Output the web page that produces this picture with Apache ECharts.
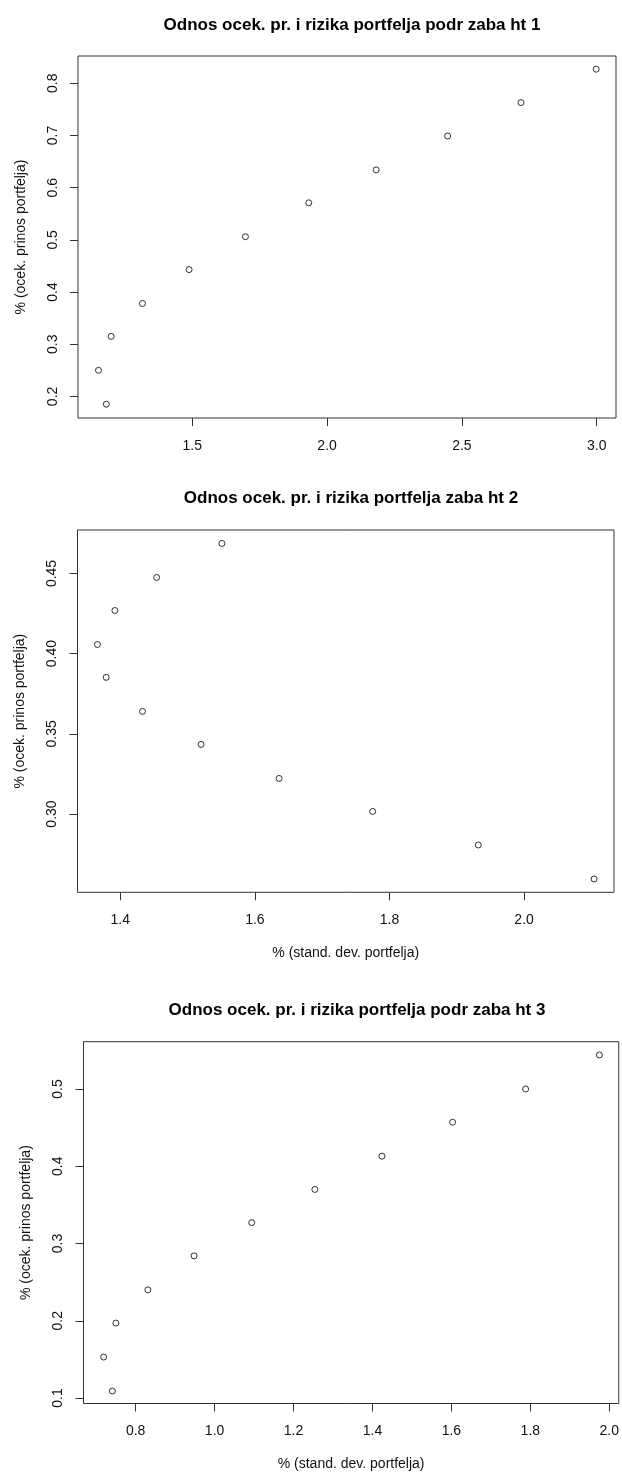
<!DOCTYPE html>
<html>
<head>
<meta charset="utf-8">
<script src="https://cdn.jsdelivr.net/npm/echarts@6/dist/echarts.min.js"></script>
<style>
html,body{margin:0;padding:0;background:#fff;}
#chart{width:622px;height:1475px;}
</style>
</head>
<body>
<div id="chart"></div>
<script>
const titles = [
  "Odnos ocek. pr. i rizika portfelja podr zaba ht 1",
  "Odnos ocek. pr. i rizika portfelja zaba ht 2",
  "Odnos ocek. pr. i rizika portfelja podr zaba ht 3"
];
const yName = "% (ocek. prinos portfelja)";
const xName = "% (stand. dev. portfelja)";

const sd1  = [1.152, 1.181, 1.199, 1.315, 1.488, 1.697, 1.932, 2.182, 2.447, 2.719, 2.998];
const ret1 = [0.250, 0.185, 0.315, 0.378, 0.443, 0.506, 0.571, 0.634, 0.699, 0.763, 0.827];

const sd2  = [1.366, 1.379, 1.392, 1.433, 1.454, 1.520, 1.551, 1.636, 1.775, 1.932, 2.104];
const ret2 = [0.4057, 0.3852, 0.4269, 0.3640, 0.4475, 0.3434, 0.4687, 0.3222, 0.3016, 0.2807, 0.2595];

const sd3  = [0.719, 0.741, 0.750, 0.831, 0.948, 1.094, 1.254, 1.424, 1.603, 1.788, 1.975];
const ret3 = [0.153, 0.109, 0.197, 0.240, 0.284, 0.327, 0.370, 0.413, 0.457, 0.500, 0.544];

const xTicks1 = [1.5, 2.0, 2.5, 3.0];
const xLabels1 = ["1.5", "2.0", "2.5", "3.0"];
const yTicks1 = [0.2, 0.3, 0.4, 0.5, 0.6, 0.7, 0.8];
const yLabels1 = ["0.2", "0.3", "0.4", "0.5", "0.6", "0.7", "0.8"];

const xTicks2 = [1.4, 1.6, 1.8, 2.0];
const xLabels2 = ["1.4", "1.6", "1.8", "2.0"];
const yTicks2 = [0.30, 0.35, 0.40, 0.45];
const yLabels2 = ["0.30", "0.35", "0.40", "0.45"];

const xTicks3 = [0.8, 1.0, 1.2, 1.4, 1.6, 1.8, 2.0];
const xLabels3 = ["0.8", "1.0", "1.2", "1.4", "1.6", "1.8", "2.0"];
const yTicks3 = [0.1, 0.2, 0.3, 0.4, 0.5];
const yLabels3 = ["0.1", "0.2", "0.3", "0.4", "0.5"];

const FONT = "'Liberation Sans', Arial, sans-serif";
const INK = '#111';

const panels = [
  {grid:{left:78, top:56, width:538, height:362}, xr:[1.076, 3.0716], yr:[0.1586, 0.8523],
   xT:xTicks1, xL:xLabels1, yT:yTicks1, yL:yLabels1, sd:sd1, ret:ret1, xName:'', titleX:347, titleTop:12},
  {grid:{left:77.5, top:530, width:536.5, height:362.3}, xr:[1.3364, 2.1336], yr:[0.2512, 0.4771],
   xT:xTicks2, xL:xLabels2, yT:yTicks2, yL:yLabels2, sd:sd2, ret:ret2, xName:xName, titleX:346, titleTop:485},
  {grid:{left:83.5, top:1041.7, width:537, height:361.8}, xr:[0.6679, 2.024], yr:[0.0929, 0.5612],
   xT:xTicks3, xL:xLabels3, yT:yTicks3, yL:yLabels3, sd:sd3, ret:ret3, xName:xName, titleX:352, titleTop:997}
];

function fmt(ticks, labels){
  return function(v){
    for (let i=0;i<ticks.length;i++){ if (Math.abs(ticks[i]-v)<1e-9) return labels[i]; }
    return '';
  };
}

const option = {
  backgroundColor:'#fff',
  animation:false,
  title: panels.map((p,i)=>({
    text: titles[i], left: p.titleX, top: p.titleTop, textAlign:'center',
    textStyle:{fontFamily:FONT, fontWeight:'bold', fontSize:17, color:'#000'}
  })),
  grid: panels.map(p=>Object.assign({show:true, borderColor:'#333', borderWidth:1, backgroundColor:'transparent'}, p.grid)),
  xAxis: panels.map((p,i)=>({
    type:'value', gridIndex:i, min:p.xr[0], max:p.xr[1],
    axisLine:{show:false},
    axisTick:{show:true, inside:false, length:8, customValues:p.xT, lineStyle:{color:'#333', width:1}},
    axisLabel:{show:true, customValues:p.xT, formatter:fmt(p.xT,p.xL), margin:21,
      fontFamily:FONT, fontSize:14, color:INK},
    splitLine:{show:false},
    name:p.xName, nameLocation:'middle', nameGap:54,
    nameTextStyle:{fontFamily:FONT, fontSize:14, color:INK}
  })),
  yAxis: panels.map((p,i)=>({
    type:'value', gridIndex:i, min:p.yr[0], max:p.yr[1],
    axisLine:{show:false},
    axisTick:{show:true, inside:false, length:8, customValues:p.yT, lineStyle:{color:'#333', width:1}},
    axisLabel:{show:true, customValues:p.yT, formatter:fmt(p.yT,p.yL), rotate:90, margin:18,
      fontFamily:FONT, fontSize:14, color:INK},
    splitLine:{show:false},
    name:yName, nameLocation:'middle', nameGap:50, nameRotate:90,
    nameTextStyle:{fontFamily:FONT, fontSize:14, color:INK}
  })),
  series: panels.map((p,i)=>({
    type:'scatter', xAxisIndex:i, yAxisIndex:i,
    data: p.sd.map((x,j)=>[x, p.ret[j]]),
    symbol:'circle', symbolSize:6,
    itemStyle:{color:'rgba(255,255,255,0)', borderColor:'#000', borderWidth:1}
  }))
};

const chart = echarts.init(document.getElementById('chart'), null, {renderer:'canvas'});
chart.setOption(option);
</script>
</body>
</html>
